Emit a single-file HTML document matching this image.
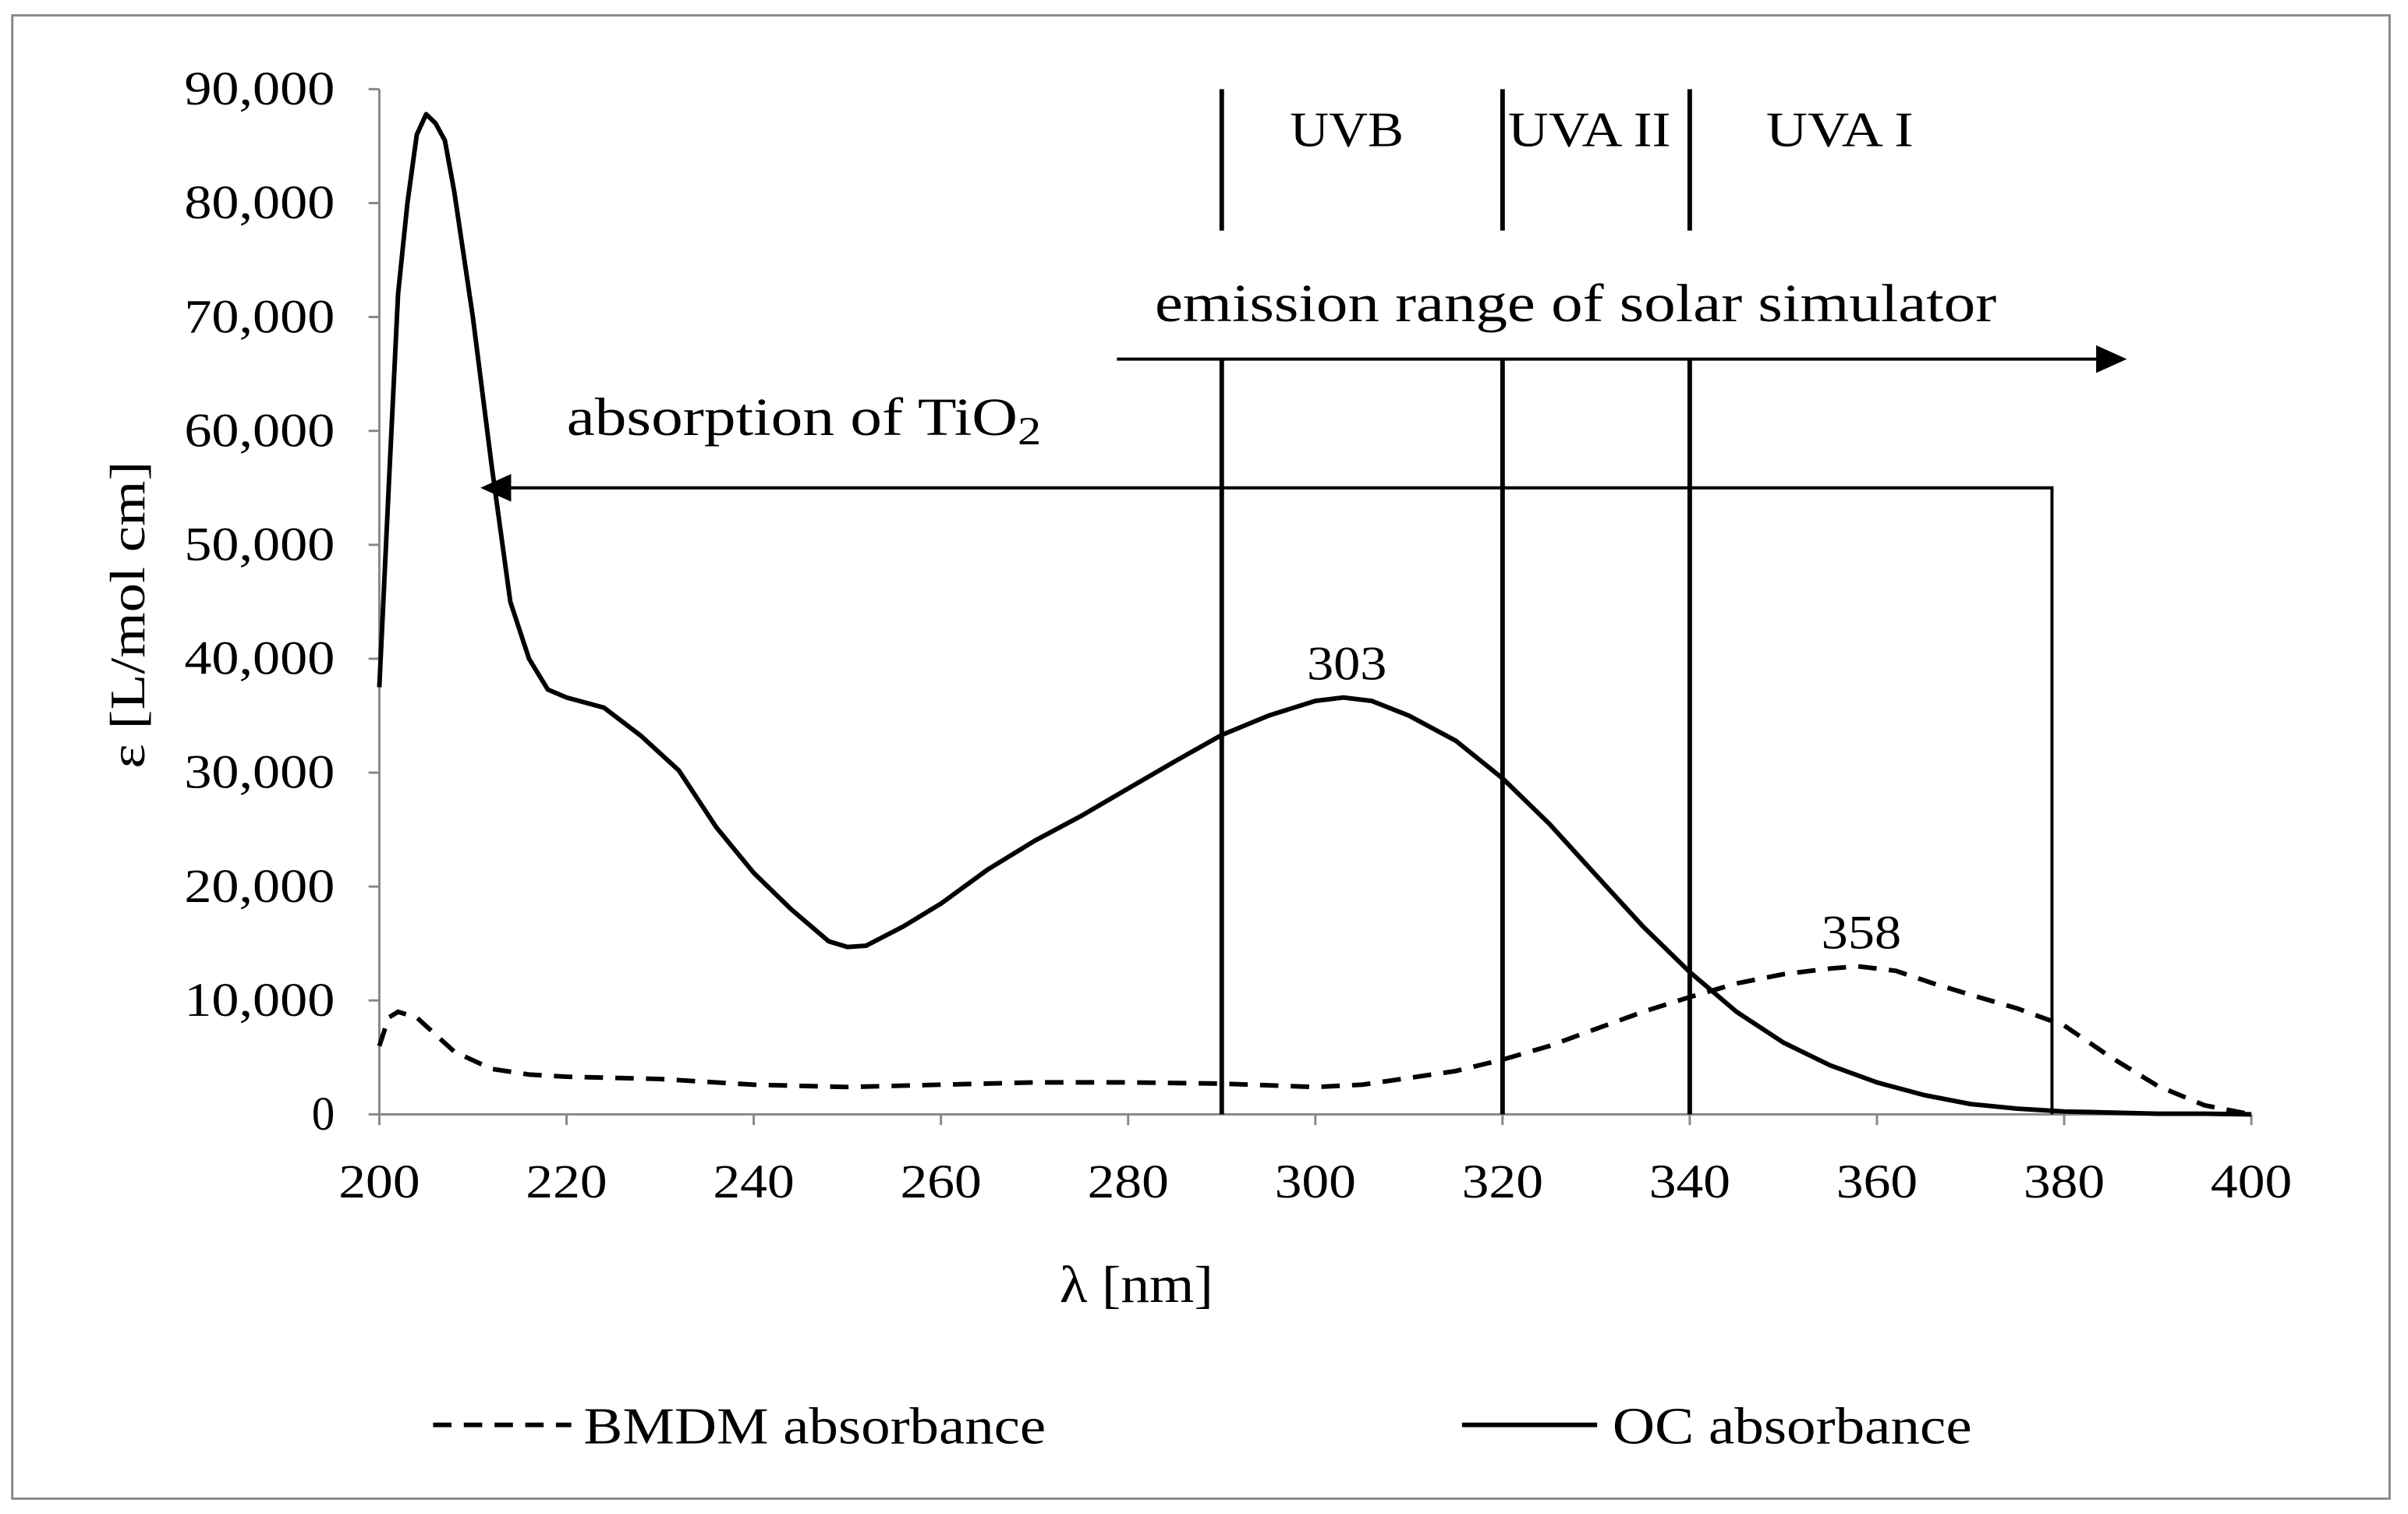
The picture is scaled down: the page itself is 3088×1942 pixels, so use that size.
<!DOCTYPE html>
<html><head><meta charset="utf-8"><style>
html,body{margin:0;padding:0;background:#fff;}
svg{display:block;}
text{font-family:"Liberation Serif",serif;fill:#000;}
</style></head><body>
<svg id="chart" width="3088" height="1942" viewBox="0 0 1568 985" preserveAspectRatio="none" xmlns="http://www.w3.org/2000/svg">
<rect x="8" y="10" width="1548" height="965" fill="#fff" stroke="#888" stroke-width="1.5"/>
<g id="axes"></g>
<g id="series"></g>
<g id="annot">
  <text x="840" y="95" font-size="32" textLength="74" lengthAdjust="spacingAndGlyphs">UVB</text>
  <text x="982" y="95" font-size="32" textLength="106" lengthAdjust="spacingAndGlyphs">UVA II</text>
  <text x="1150" y="95" font-size="32" textLength="96" lengthAdjust="spacingAndGlyphs">UVA I</text>
  <text x="752" y="209" font-size="35" textLength="548" lengthAdjust="spacingAndGlyphs">emission range of solar simulator</text>
  <text x="369" y="283" font-size="35" textLength="309" lengthAdjust="spacingAndGlyphs">absorption of TiO<tspan font-size="26" dy="6">2</tspan></text>
  <text x="851" y="442" font-size="31" textLength="52" lengthAdjust="spacingAndGlyphs">303</text>
  <text x="1186" y="617" font-size="31" textLength="52" lengthAdjust="spacingAndGlyphs">358</text>
  <text x="690" y="847" font-size="34" textLength="100" lengthAdjust="spacingAndGlyphs">λ [nm]</text>
  <text transform="translate(94,500) rotate(-90)" font-size="32" textLength="200" lengthAdjust="spacingAndGlyphs">ε [L/mol cm]</text>
  <line x1="282" y1="927" x2="372" y2="927" stroke="#000" stroke-width="3" stroke-dasharray="12,8"/>
  <text x="380" y="939" font-size="34" textLength="301" lengthAdjust="spacingAndGlyphs">BMDM absorbance</text>
  <line x1="952" y1="927" x2="1040" y2="927" stroke="#000" stroke-width="3"/>
  <text x="1050" y="939" font-size="34" textLength="234" lengthAdjust="spacingAndGlyphs">OC absorbance</text>
</g>
</svg>
<script>
const xTicks=[200,220,240,260,280,300,320,340,360,380,400];
const yTicks=[0,10000,20000,30000,40000,50000,60000,70000,80000,90000];
const ocX=[200,201,202,203,204,205,206,207,208,210,212,214,216,218,220,224,228,232,236,240,244,248,250,252,256,260,265,270,275,280,285,290,295,300,303,306,310,315,320,325,330,335,340,345,350,355,360,365,370,375,380,390,395,400];
const ocY=[37500,55000,72000,80000,86000,87800,87000,85500,81000,70000,57000,45000,40000,37300,36600,35700,33200,30200,25200,21200,18000,15200,14700,14800,16500,18500,21500,24000,26200,28600,31000,33300,35000,36300,36600,36300,35000,32800,29500,25500,21000,16500,12500,9000,6300,4300,2800,1700,900,500,250,50,50,0];
const bmX=[200,201,202,204,206,208,212,216,220,230,240,250,260,270,280,290,300,305,310,315,320,325,330,335,340,345,350,355,358,362,366,370,375,380,385,390,395,400];
const bmY=[6000,8500,9000,8500,7000,5500,4000,3500,3300,3100,2600,2400,2600,2800,2800,2700,2400,2600,3200,3800,4800,6000,7500,9000,10300,11500,12300,12800,13000,12600,11500,10500,9300,7800,5000,2500,800,0];
const regionX=[290,320,340];
const tio2Edge=378.7, tio2Y=55000;
const emisStart=278.8, emisEnd=386.7, emisY=66300;
const NS="http://www.w3.org/2000/svg";
const X=v=>247+(v-200)*(1466-247)/200;
const Y=v=>725-v*(725-58)/90000;
function mk(tag,attrs,parent){const e=document.createElementNS(NS,tag);for(const k in attrs)e.setAttribute(k,attrs[k]);parent.appendChild(e);return e;}
const ax=document.getElementById('axes'), se=document.getElementById('series'), an=document.getElementById('annot');
let l=mk('line',{x1:X(200),y1:Y(0),x2:X(400),y2:Y(0),stroke:'#888','stroke-width':1.5},ax);


l=mk('line',{x1:X(200),y1:Y(0),x2:X(200),y2:Y(90000),stroke:'#888','stroke-width':1.5},ax);


xTicks.forEach(t=>{
  mk('line',{x1:X(t),y1:Y(0),x2:X(t),y2:Y(0)+7,stroke:'#888','stroke-width':1.5},ax);
  const tx=mk('text',{x:X(t),y:779,'font-size':31,'text-anchor':'middle',textLength:53,lengthAdjust:'spacingAndGlyphs'},ax);tx.textContent=t;
  
  
});
yTicks.forEach(t=>{
  const s=t.toLocaleString('en-US');
  const tx=mk('text',{x:218,y:Y(t)+10,'font-size':31,'text-anchor':'end',textLength:s.length>1?98:15,lengthAdjust:'spacingAndGlyphs'},ax);tx.textContent=s;
  mk('line',{x1:X(200)-7,y1:Y(t),x2:X(200),y2:Y(t),stroke:'#888','stroke-width':1.5},ax);
  
  
});
const pth=(xs,ys)=>xs.map((x,i)=>(i?'L':'M')+X(x).toFixed(1)+','+Y(ys[i]).toFixed(1)).join(' ');
let p=mk('path',{d:pth(bmX,bmY),fill:'none',stroke:'#000','stroke-width':3,'stroke-dasharray':'12,8'},se);


p=mk('path',{d:pth(ocX,ocY),fill:'none',stroke:'#000','stroke-width':3,'stroke-linejoin':'round'},se);


regionX.forEach(r=>{
  let a=mk('line',{x1:X(r),y1:Y(90000),x2:X(r),y2:150,stroke:'#000','stroke-width':3},an);
  
  
  a=mk('line',{x1:X(r),y1:Y(emisY),x2:X(r),y2:Y(0),stroke:'#000','stroke-width':3},an);
  
  
});
let e=mk('line',{x1:X(emisStart),y1:Y(emisY),x2:X(emisEnd)-18,y2:Y(emisY),stroke:'#000','stroke-width':2},an);


mk('polygon',{points:`${X(emisEnd)},${Y(emisY)} ${X(emisEnd)-20},${Y(emisY)-9} ${X(emisEnd)-20},${Y(emisY)+9}`,fill:'#000'},an);
e=mk('polyline',{points:`${X(tio2Edge)},${Y(0)} ${X(tio2Edge)},${Y(tio2Y)} ${X(210.8)+18},${Y(tio2Y)}`,fill:'none',stroke:'#000','stroke-width':2},an);


mk('polygon',{points:`${X(210.8)},${Y(tio2Y)} ${X(210.8)+20},${Y(tio2Y)-9} ${X(210.8)+20},${Y(tio2Y)+9}`,fill:'#000'},an);
</script>
</body></html>
